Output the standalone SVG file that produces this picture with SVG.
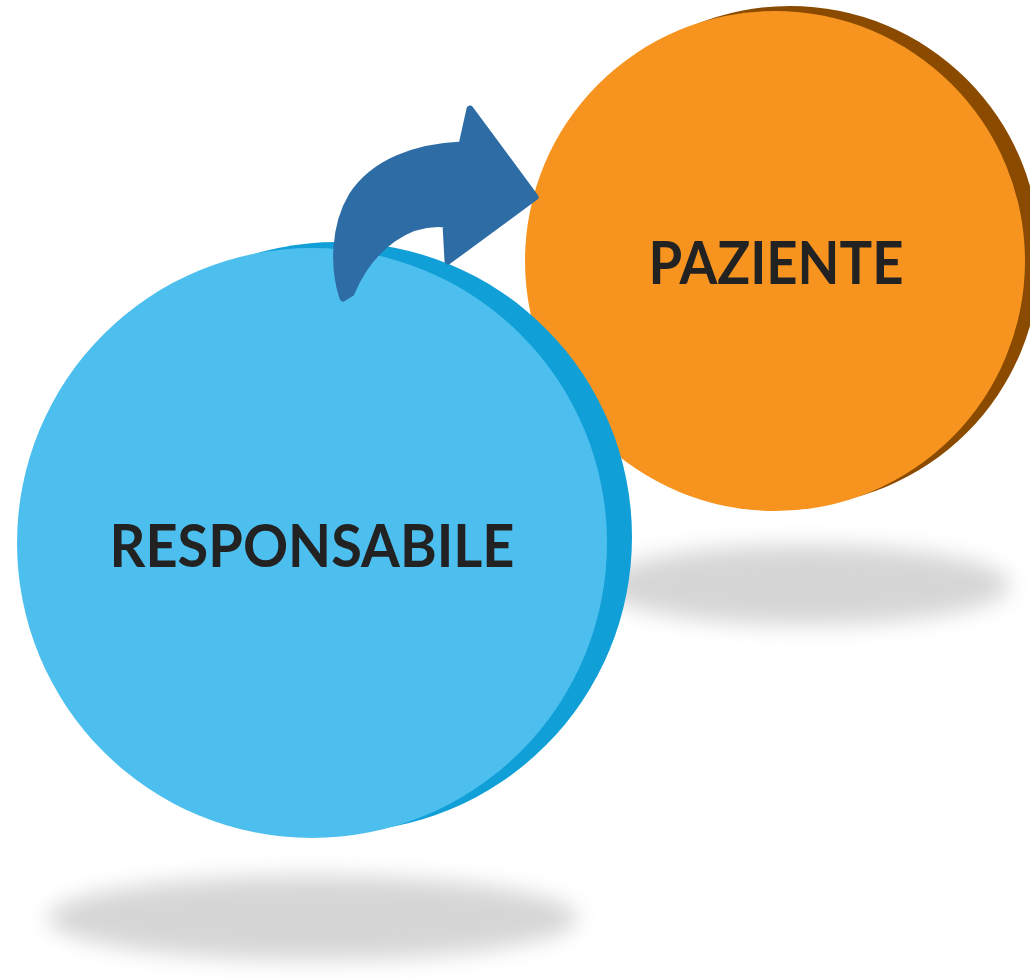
<svg xmlns="http://www.w3.org/2000/svg" width="1030" height="979" viewBox="0 0 1030 979">
<style>
.lbl{font-family:Lato,"Open Sans","Liberation Sans",sans-serif;font-weight:700;font-size:60px;fill:#222222;text-anchor:middle}
.shadow{fill:#d6d6d6;filter:url(#blur)}
</style>
<defs>
<filter id="blur" x="-20%" y="-60%" width="140%" height="220%"><feGaussianBlur stdDeviation="11"/></filter>
</defs>
<rect width="1030" height="979" fill="#ffffff"/>
<g id="paziente">
<ellipse class="shadow" cx="805" cy="585" rx="205" ry="40"/>
<circle cx="790" cy="256" r="250" fill="#8a4b00"/>
<circle cx="775" cy="261" r="250" fill="#f7941f"/>
<text class="lbl" x="776" y="284" textLength="255" lengthAdjust="spacingAndGlyphs">PAZIENTE</text>
</g>
<g id="responsabile">
<ellipse class="shadow" cx="313" cy="918" rx="265" ry="42"/>
<circle cx="337" cy="537" r="295" fill="#119fd8"/>
<circle cx="312" cy="543" r="295" fill="#4dbfef"/>
<text class="lbl" x="312" y="567" textLength="405" lengthAdjust="spacingAndGlyphs">RESPONSABILE</text>
</g>
<g id="connectors">
<path d="M 343,298 C 333,268 334,226 352,196 C 374,162 416,147 462,145 L 470,109 L 535,197 L 448,261 L 446,224 C 410,220 372,244 351,293 Z" fill="#2e6ca5" stroke="#2e6ca5" stroke-width="7" stroke-linejoin="round"/>
</g>
</svg>
